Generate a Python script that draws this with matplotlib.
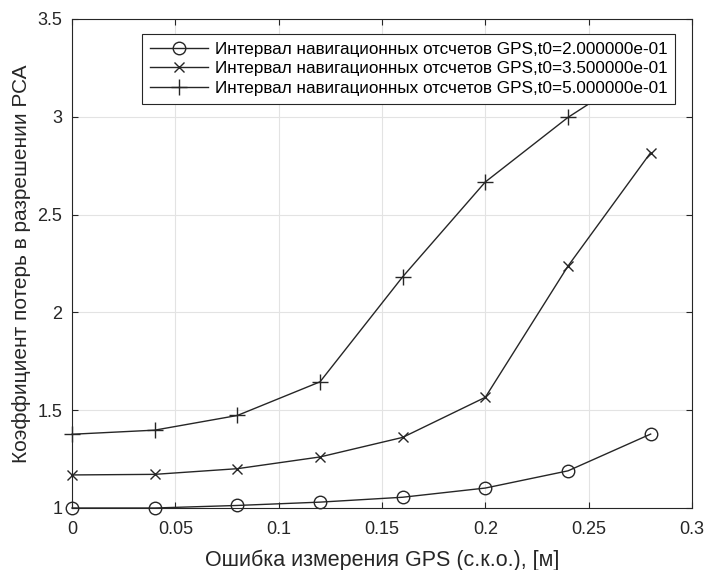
"""Recreate the GPS error vs. SAR resolution loss chart."""

import matplotlib

matplotlib.use("Agg")

import matplotlib.pyplot as plt
from matplotlib.ticker import FuncFormatter

gps_error = [0.0, 0.04, 0.08, 0.12, 0.16, 0.20, 0.24, 0.28]
loss_t02 = [1.0, 1.0, 1.013, 1.03, 1.055, 1.102, 1.19, 1.378]
loss_t035 = [1.169, 1.172, 1.201, 1.261, 1.361, 1.566, 2.237, 2.817]
loss_t05 = [1.377, 1.398, 1.473, 1.645, 2.182, 2.667, 2.997, 3.27]

series_labels = [
    "Интервал навигационных отсчетов GPS,t0=2.000000e-01",
    "Интервал навигационных отсчетов GPS,t0=3.500000e-01",
    "Интервал навигационных отсчетов GPS,t0=5.000000e-01",
]
x_ticks = [0, 0.05, 0.1, 0.15, 0.2, 0.25, 0.3]
y_ticks = [1, 1.5, 2, 2.5, 3, 3.5]

plt.rcParams["font.family"] = ["Liberation Sans", "DejaVu Sans"]

fig = plt.figure(figsize=(7.04, 5.70), dpi=100)
ax = fig.add_axes([72 / 704, 1 - 508 / 570, 620 / 704, 489 / 570])

line_color = "#262626"
styles = (
    dict(marker="o", markersize=9, markerfacecolor="none"),
    dict(marker="x", markersize=7),
    dict(marker="+", markersize=11),
)
for values, label, style in zip((loss_t02, loss_t035, loss_t05), series_labels, styles):
    ax.plot(gps_error, values, color=line_color, linewidth=1.0, markeredgewidth=1.0,
            label=label, clip_on=False, **style)

ax.set_xlim(0, 0.3)
ax.set_ylim(1, 3.5)
ax.set_xticks(x_ticks)
ax.set_yticks(y_ticks)
fmt = FuncFormatter(lambda v, _: f"{v:g}")
ax.xaxis.set_major_formatter(fmt)
ax.yaxis.set_major_formatter(fmt)
ax.tick_params(direction="in", length=4, width=0.8, top=True, right=True,
               labelsize=13, colors="#262626")
ax.tick_params(axis="x", pad=9)
ax.tick_params(axis="y", pad=7)
ax.grid(True, color="#e3e3e3", linewidth=0.8)
ax.set_axisbelow(True)
for spine in ax.spines.values():
    spine.set_color("#262626")
    spine.set_linewidth(0.8)

ax.set_xlabel("Ошибка измерения GPS (с.к.о.), [м]", fontsize=15.5, color="#262626")
ax.set_ylabel("Коэффициент потерь в разрешении РСА", fontsize=15, color="#262626")
ax.xaxis.set_label_coords(0.5, -0.085)
ax.yaxis.set_label_coords(-0.066, 0.5)

legend = ax.legend(loc="upper right", bbox_to_anchor=(675 / 704, 1 - 34 / 570),
                   bbox_transform=fig.transFigure, borderaxespad=0, fontsize=12.3,
                   handlelength=3.4, handletextpad=0.4, labelspacing=0.27,
                   borderpad=0.45, fancybox=False, framealpha=1, edgecolor="#262626")
legend.get_frame().set_linewidth(0.8)
legend.set_zorder(5)

fig.savefig("out.png", dpi=100, facecolor="white")
